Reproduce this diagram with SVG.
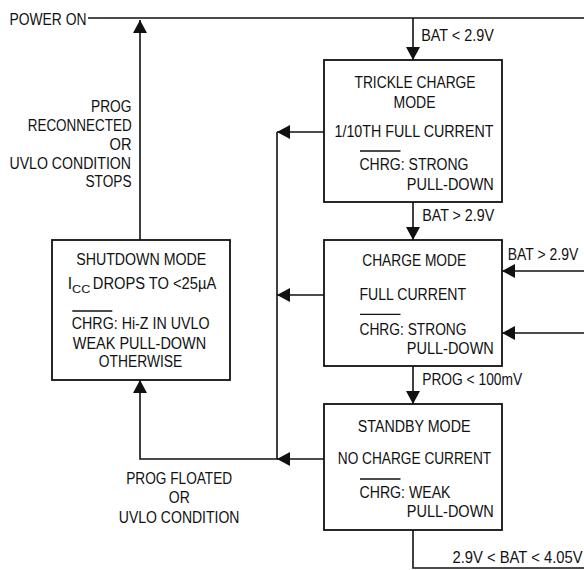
<svg xmlns="http://www.w3.org/2000/svg" width="584" height="570" viewBox="0 0 584 570">
<defs>
<style>
.t{font-family:"Liberation Sans",Arial,sans-serif;font-size:16px;fill:#111}
.s{font-family:"Liberation Sans",Arial,sans-serif;font-size:11.5px;fill:#111}
.box{fill:#fff;stroke:#111;stroke-width:1.8}
.ln{fill:none;stroke:#111;stroke-width:1.6}
.ov{stroke:#111;stroke-width:1.3}
</style>
<marker id="ah" markerUnits="userSpaceOnUse" markerWidth="13" markerHeight="14" viewBox="0 0 13 14" refX="13" refY="7" orient="auto">
<path d="M0,0 L13,7 L0,14 z" fill="#111"/>
</marker>
</defs>
<rect width="584" height="570" fill="#fff"/>

<g id="connectors">
<path class="ln" d="M88,18 H584"/>
<path class="ln" d="M140,240 V20" marker-end="url(#ah)"/>
<path class="ln" d="M413,18 V60" marker-end="url(#ah)"/>
<path class="ln" d="M413,202 V240" marker-end="url(#ah)"/>
<path class="ln" d="M413,366 V404" marker-end="url(#ah)"/>
<path class="ln" d="M413,530 V568 H584"/>
<path class="ln" d="M584,271 H502" marker-end="url(#ah)"/>
<path class="ln" d="M584,333 H502" marker-end="url(#ah)"/>
<path class="ln" d="M324,132 H277" marker-end="url(#ah)"/>
<path class="ln" d="M324,295 H277" marker-end="url(#ah)"/>
<path class="ln" d="M324,459 H277" marker-end="url(#ah)"/>
<path class="ln" d="M277,132 V459 H140 V380" marker-end="url(#ah)"/>
</g>

<g id="labels">
<text class="t" x="9.5" y="25" textLength="77" lengthAdjust="spacingAndGlyphs">POWER ON</text>
<text class="t" x="91" y="112" textLength="40.5" lengthAdjust="spacingAndGlyphs">PROG</text>
<text class="t" x="27.7" y="130.5" textLength="104" lengthAdjust="spacingAndGlyphs">RECONNECTED</text>
<text class="t" x="109.5" y="149.5" textLength="22" lengthAdjust="spacingAndGlyphs">OR</text>
<text class="t" x="9.5" y="168.5" textLength="121.5" lengthAdjust="spacingAndGlyphs">UVLO CONDITION</text>
<text class="t" x="85.5" y="187" textLength="46" lengthAdjust="spacingAndGlyphs">STOPS</text>
<text class="t" x="421.2" y="41" textLength="72.6" lengthAdjust="spacingAndGlyphs">BAT &lt; 2.9V</text>
<text class="t" x="422.2" y="220.5" textLength="72" lengthAdjust="spacingAndGlyphs">BAT &gt; 2.9V</text>
<text class="t" transform="translate(507.8,260) scale(0.873,1)">BAT &gt; 2.9V</text>
<text class="t" x="422.2" y="385" textLength="100" lengthAdjust="spacingAndGlyphs">PROG &lt; 100mV</text>
<text class="t" transform="translate(452.5,563.3) scale(0.924,1)">2.9V &lt; BAT &lt; 4.05V</text>
<text class="t" x="126.2" y="484" textLength="106" lengthAdjust="spacingAndGlyphs">PROG FLOATED</text>
<text class="t" x="168.8" y="503.3" textLength="21" lengthAdjust="spacingAndGlyphs">OR</text>
<text class="t" x="118.8" y="523.3" textLength="120.7" lengthAdjust="spacingAndGlyphs">UVLO CONDITION</text>
</g>

<g id="trickle">
<rect class="box" x="324" y="60" width="178" height="142"/>
<text class="t" x="354.5" y="88" textLength="121" lengthAdjust="spacingAndGlyphs">TRICKLE CHARGE</text>
<text class="t" x="393.5" y="108" textLength="42" lengthAdjust="spacingAndGlyphs">MODE</text>
<text class="t" x="334.5" y="136.7" textLength="159" lengthAdjust="spacingAndGlyphs">1/10TH FULL CURRENT</text>
<line class="ov" x1="360" y1="151" x2="400.5" y2="151"/>
<text class="t" x="359.5" y="170" textLength="109" lengthAdjust="spacingAndGlyphs">CHRG: STRONG</text>
<text class="t" x="406.8" y="189.5" textLength="87" lengthAdjust="spacingAndGlyphs">PULL-DOWN</text>
</g>

<g id="charge">
<rect class="box" x="324" y="240" width="178" height="126"/>
<text class="t" x="362.2" y="266" textLength="104" lengthAdjust="spacingAndGlyphs">CHARGE MODE</text>
<text class="t" x="359.5" y="300" textLength="106.5" lengthAdjust="spacingAndGlyphs">FULL CURRENT</text>
<line class="ov" x1="360" y1="314.3" x2="400.5" y2="314.3"/>
<text class="t" x="359.5" y="335" textLength="107" lengthAdjust="spacingAndGlyphs">CHRG: STRONG</text>
<text class="t" x="406.8" y="353.5" textLength="87" lengthAdjust="spacingAndGlyphs">PULL-DOWN</text>
</g>

<g id="standby">
<rect class="box" x="324" y="404" width="178" height="126"/>
<text class="t" x="357.8" y="432.3" textLength="112.7" lengthAdjust="spacingAndGlyphs">STANDBY MODE</text>
<text class="t" x="337.8" y="464" textLength="153.4" lengthAdjust="spacingAndGlyphs">NO CHARGE CURRENT</text>
<line class="ov" x1="360" y1="479" x2="400.5" y2="479"/>
<text class="t" x="359.5" y="498.3" textLength="91" lengthAdjust="spacingAndGlyphs">CHRG: WEAK</text>
<text class="t" x="406.8" y="517.3" textLength="87" lengthAdjust="spacingAndGlyphs">PULL-DOWN</text>
</g>

<g id="shutdown">
<rect class="box" x="52" y="240" width="178" height="140"/>
<text class="t" x="76.2" y="265" textLength="130" lengthAdjust="spacingAndGlyphs">SHUTDOWN MODE</text>
<text class="t" x="67.8" y="289" textLength="4.4" lengthAdjust="spacingAndGlyphs">I</text>
<text class="s" x="72" y="293" textLength="18.3" lengthAdjust="spacingAndGlyphs">CC</text>
<text class="t" x="92.8" y="289" textLength="123.4" lengthAdjust="spacingAndGlyphs">DROPS TO &lt;25µA</text>
<line class="ov" x1="72.3" y1="311" x2="112.3" y2="311"/>
<text class="t" x="71.8" y="329" textLength="137.7" lengthAdjust="spacingAndGlyphs">CHRG: Hi-Z IN UVLO</text>
<text class="t" x="72.8" y="349" textLength="133.4" lengthAdjust="spacingAndGlyphs">WEAK PULL-DOWN</text>
<text class="t" x="98.8" y="367.3" textLength="83.4" lengthAdjust="spacingAndGlyphs">OTHERWISE</text>
</g>
</svg>
